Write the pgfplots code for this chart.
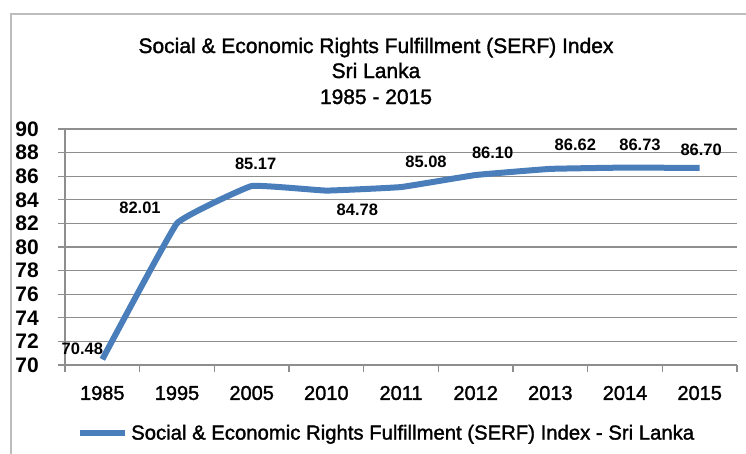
\documentclass[border=0pt]{standalone}
\usepackage{pgfplots}
\pgfplotsset{compat=1.18}
\usepackage{fontspec}
\setmainfont{Liberation Sans}
\newfontfamily\heavyfont{Liberation Sans}[FakeBold=1.5]
\definecolor{serf}{HTML}{4A7EBB}
\definecolor{gridc}{HTML}{8E8E8E}
\definecolor{framec}{HTML}{BDBDBD}
\newcommand\lab[4]{%
  \addplot[draw=none, mark=none, forget plot, nodes near coords, point meta=explicit symbolic,
    every node near coord/.append style={anchor=center, xshift=#3bp, yshift=#4bp,
      font=\fontsize{16.5bp}{19bp}\selectfont\bfseries, text=black, inner sep=0pt}]
    coordinates {(#1) [#2]};}
\begin{document}
\begin{tikzpicture}
\draw[framec, line width=1.5bp] (11bp,-470bp) -- (11bp,-14bp) -- (770bp,-14bp);
\node[anchor=base, inner sep=0pt, font=\fontsize{21bp}{25bp}\heavyfont] at (376bp,-53bp) {Social \& Economic Rights Fulfillment (SERF) Index};
\node[anchor=base, inner sep=0pt, font=\fontsize{21bp}{25bp}\heavyfont] at (376bp,-78bp) {Sri Lanka};
\node[anchor=base, inner sep=0pt, font=\fontsize{21bp}{25bp}\heavyfont] at (376bp,-104bp) {1985 - 2015};
\begin{axis}[
  at={(65bp,-365bp)}, anchor=south west,
  scale only axis, width=672bp, height=236bp,
  xmin=0, xmax=9, ymin=70, ymax=90,
  clip=false,
  axis x line*=bottom, axis y line*=left,
  axis line style={gridc, line width=1.2bp, -},
  ytick={70,72,...,90},
  xtick={0.5,1.5,...,8.5},
  xticklabels={1985,1995,2005,2010,2011,2012,2013,2014,2015},
  minor xtick={0,1,...,9},
  major x tick style={draw=none},
  minor x tick style={gridc, line width=1.2bp},
  minor tick length=7bp,
  major tick length=7bp,
  y tick style={gridc, line width=1.2bp},
  tick align=outside,
  ymajorgrids,
  grid style={gridc, line width=1.2bp},
  /pgf/number format/assume math mode=true,
  yticklabel style={font=\fontsize{21bp}{24bp}\selectfont\bfseries, anchor=east, inner sep=0pt, xshift=-19bp},
  xticklabel style={font=\fontsize{20bp}{24bp}\heavyfont, anchor=center, inner sep=0pt, yshift=-21bp},
  legend style={at={(axis description cs:0.0179,-0.288)}, anchor=west, draw=none, fill=none,
    inner sep=0pt, column sep=3bp, font=\fontsize{20.3bp}{24bp}\heavyfont, nodes={inner sep=0pt}},
  legend image code/.code={\draw[#1, line width=6bp] (0bp,0bp) -- (45bp,0bp);},
]
\addplot[serf, line width=6bp, smooth, tension=0.15, mark=none] coordinates {
(0.5,70.48) (1.5,82.01) (2.5,85.17) (3.5,84.78) (4.5,85.08) (5.5,86.10) (6.5,86.62) (7.5,86.73) (8.5,86.70)};
\addlegendentry{Social \& Economic Rights Fulfillment (SERF) Index - Sri Lanka}
\lab{0.5,70.48}{70.48}{-20}{11}
\lab{1.5,82.01}{82.01}{-37}{15}
\lab{2.5,85.17}{85.17}{4}{22}
\lab{3.5,84.78}{84.78}{31}{-19.5}
\lab{4.5,85.08}{85.08}{25}{25}
\lab{5.5,86.10}{86.10}{17}{22}
\lab{6.5,86.62}{86.62}{25}{24}
\lab{7.5,86.73}{86.73}{15}{23}
\lab{8.5,86.70}{86.70}{1.5}{18}
\end{axis}
\pgfresetboundingbox
\path[use as bounding box] (0bp,0bp) rectangle (746bp,-454bp);
\end{tikzpicture}
\end{document}
